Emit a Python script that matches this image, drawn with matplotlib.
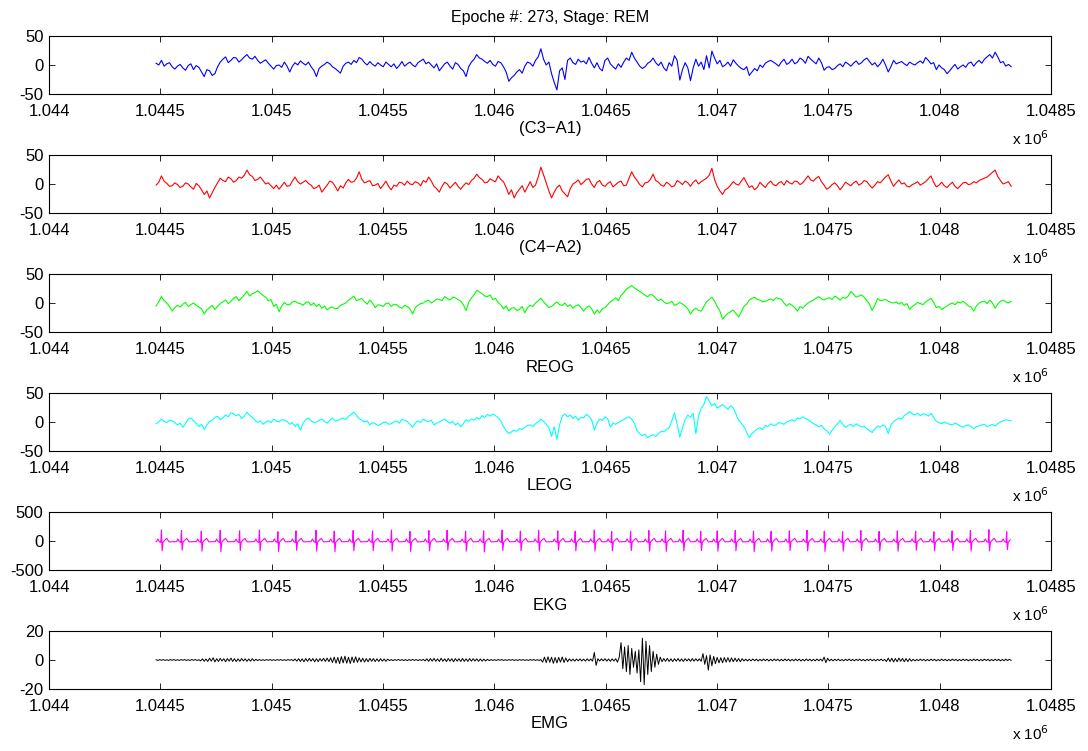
import numpy as np
import matplotlib
matplotlib.use("Agg")
import matplotlib.pyplot as plt

plt.rcParams['font.family'] = ['Liberation Sans', 'DejaVu Sans']

title_text = "Epoche #: 273, Stage: REM"
channel_names = ["(C3\u2212A1)", "(C4\u2212A2)", "REOG", "LEOG", "EKG", "EMG"]
channel_colors = ["#0000ff", "#ff0000", "#00ff00", "#00ffff", "#ff00ff", "#000000"]
channel_ylims = [(-50, 50), (-50, 50), (-50, 50), (-50, 50), (-500, 500), (-20, 20)]
channel_yticks = [[-50, 0, 50], [-50, 0, 50], [-50, 0, 50], [-50, 0, 50],
                  [-500, 0, 500], [-20, 0, 20]]

epoch_start = 1044481          # first sample of epoch 273
eeg_step = 12                  # samples between stored EEG/EOG values
emg_step = 8                   # samples between stored EMG values
xticks = [1.044e6, 1.0445e6, 1.045e6, 1.0455e6, 1.046e6, 1.0465e6,
          1.047e6, 1.0475e6, 1.048e6, 1.0485e6]
xtick_labels = ["1.044", "1.0445", "1.045", "1.0455", "1.046", "1.0465",
                "1.047", "1.0475", "1.048", "1.0485"]

c3_a1 = [
    3, 0, 8, -2, 2, 4, -3, -7, -2, 1, -5, -9, -1, 2, -8, -1, -4, -12, -20, -8,
    -10, -18, -15, -3, 5, 10, 14, 4, 8, 13, 12, 5, 9, 14, 18, 12, 10, 15, 8, 3,
    6, 9, 3, -2, -7, -1, 0, -4, 5, -2, -12, -2, 4, 0, 7, 3, 0, 5, -3, -9,
    -20, -6, -2, 1, 5, 2, -3, -6, -10, -14, -2, 3, 5, 1, 8, 4, 13, 10, 4, 0,
    6, 1, -2, 4, 0, -3, 5, 1, -3, 2, -6, -1, 6, -2, 2, 5, 0, -3, 4, 7,
    10, 2, 5, 0, -5, 2, -10, -4, 2, 5, -2, -7, 4, 1, -6, -10, -20, -3, 5, 10,
    18, 12, 10, 6, 3, 8, 1, -2, 6, 4, -3, -12, -28, -22, -18, -12, -8, -14, -2, 5,
    3, -2, 8, 14, 28, 10, 0, 5, -15, -30, -43, -10, -5, -25, 8, 12, 4, 1, 10, 5,
    7, 2, 13, 3, -5, 4, -6, -10, 8, 12, 2, -3, -7, 2, -4, 5, 12, 8, 22, 12,
    5, -2, -6, -3, 3, 6, 12, 4, -1, 5, -5, -10, 4, -2, 16, 8, -26, -8, 4, -5,
    -27, -5, 10, -2, 5, -8, 16, -5, 24, 12, 2, 8, -3, 0, 5, -2, 9, 3, -2, -6,
    -8, -3, -18, -12, -6, -10, 0, -4, 3, 6, 8, 5, 2, -2, 5, 10, 1, 4, 10, 2,
    5, 12, 9, 3, 15, 10, 6, 2, 12, 4, -9, -4, -3, -8, -6, -1, 2, -3, 5, 2,
    -2, 3, 7, 1, 4, 9, 12, 6, 0, 4, -3, 2, 10, 0, -12, -3, 8, 2, 4, 6,
    2, -1, 5, 2, 0, 4, 7, 3, 13, 8, 2, 4, -8, 0, -5, -8, -15, -10, -4, 1,
    -7, -3, 0, -4, 3, 5, -2, 4, 8, 3, 10, 14, 18, 12, 22, 14, 4, 6, -2, 1,
    -3]

c4_a2 = [
    -2, 3, 14, 5, 1, -4, -3, 2, -1, -6, -4, 2, 0, -5, -9, 1, -3, -10, -18, -12,
    -24, -15, -6, 2, 10, 6, 4, 12, 9, 3, 6, 12, 10, 15, 24, 16, 13, 6, 8, 12,
    6, 0, 2, -3, -8, -2, -9, -3, 3, -4, -3, 5, 12, 4, 0, 3, 6, 1, -2, -8,
    -6, -2, -14, -8, -2, 5, 3, -4, -12, -3, -7, 2, 8, 3, 4, 10, 21, 8, 2, 4,
    6, -3, -2, 1, -8, -2, 5, -4, -10, -2, -4, 3, 2, -2, 5, 0, -1, 4, 2, -3,
    6, 3, 12, 5, -4, -8, -14, -4, 3, 0, -7, -2, 3, -4, -9, -3, 2, -1, 6, 10,
    17, 11, 8, 2, 3, 9, 6, 4, 14, 8, 4, -6, -18, -10, -24, -15, -9, -3, -14, -5,
    4, -6, -2, 12, 29, 16, 2, -12, -24, -14, -6, -2, -12, -17, -22, -8, 0, 3, 7, -1,
    3, 8, 9, 0, -6, 3, 6, -2, -4, 1, 4, -5, -1, 3, 5, -3, -2, 10, 21, 12,
    6, -1, -5, 2, 3, 8, 17, 6, 3, -2, -4, 3, 0, -5, -3, 6, 3, -1, 5, 2,
    -4, 3, 7, 0, 4, 7, 10, 15, 27, 8, -4, -12, -18, -10, -7, -2, 4, 0, -2, 5,
    11, 2, -6, -3, -10, -6, 3, -2, -6, 1, 5, -1, -3, 2, 4, -2, 6, 2, 0, 5,
    4, -1, 2, 8, 14, 7, 5, 10, 13, 4, -2, -9, -6, -1, 2, -3, -10, -4, 3, 0,
    -3, 2, 5, -2, 1, 6, 4, -2, -7, -2, 4, 2, 7, 12, 16, 5, -4, 2, 7, 0,
    2, -4, -5, -1, 1, 4, -2, 1, 4, 9, 14, 3, -5, -2, 3, -3, -6, -1, 3, -4,
    -8, -3, 2, 3, -1, 0, 4, 2, 6, 8, 10, 12, 16, 20, 24, 13, 6, 0, 2, 4,
    -4]

reog = [
    -5, 2, 11, 4, 0, -6, -14, -8, -4, -7, -2, 1, -6, -3, 0, -4, -7, -10, -19, -12,
    -8, -4, -11, -6, -1, 2, 5, -1, 3, 8, 11, 4, 9, 14, 20, 12, 16, 18, 21, 17,
    13, 10, 4, 6, -6, -2, -15, -5, 1, -3, -3, 2, 3, 0, -1, -4, 1, 2, -4, 0,
    -6, -2, -9, -5, -12, -8, -7, -10, -9, -4, -2, 0, 5, 8, 12, 4, 6, 8, 2, -2,
    5, 0, -8, -3, -4, -6, -1, 0, -6, -2, -3, -7, -9, -4, -6, -10, -19, -8, -4, -1,
    0, 3, 5, 0, 3, 7, 6, 4, 11, 8, 5, 10, 9, 6, 3, -3, -13, 1, 9, 14,
    22, 19, 16, 12, 11, 14, 6, 8, 1, -3, -10, -5, -14, -9, -8, -13, -11, -6, -17, -8,
    -4, -6, 0, 4, 8, 2, -3, -8, -6, -2, 2, -3, -4, 0, -6, -3, -9, -5, -3, -8,
    -14, -8, -5, -10, -19, -12, -17, -10, -8, -3, 2, 5, 9, 4, 13, 18, 24, 27, 30, 26,
    23, 20, 17, 13, 11, 15, 13, 8, 4, 7, 2, -1, 0, 3, -4, -2, 1, -2, -5, -10,
    -19, -12, -9, -13, -14, -6, 2, 6, 10, 3, -6, -14, -28, -22, -18, -15, -12, -18, -24, -15,
    -6, -2, 5, 8, 10, 6, 5, 2, 3, 5, 7, 4, 9, 8, 6, 0, -5, -1, -4, -8,
    -14, -6, -9, -4, 0, 3, 5, 8, 11, 7, 5, 8, 9, 6, 12, 9, 5, 10, 8, 12,
    20, 15, 10, 12, 14, 10, 4, -2, -13, -4, 8, 4, 5, 6, 3, 1, 0, 2, -2, 1,
    -4, -1, -11, -6, -3, 1, -1, -3, 2, 5, 8, 1, -8, -6, -11, -8, -5, -2, 0, -3,
    2, 0, 3, -1, -5, -7, -14, -5, 0, 2, 3, -1, 5, 0, -9, -2, 3, 5, 2, 0,
    3]

leog = [
    -3, 0, 5, 1, -1, 3, 2, -1, -5, -2, -9, -3, 5, 7, 2, -2, -8, -4, -13, -5,
    1, 3, 8, 10, 4, 7, 12, 9, 16, 14, 11, 13, 6, 10, 17, 12, 8, 3, -1, 2,
    -4, 0, 2, -1, 5, 2, 0, 4, 3, 1, -4, -1, -8, -3, -14, -2, 4, 7, 2, -1,
    0, 3, 5, 1, -2, 3, 7, 2, 3, 5, 7, 4, 10, 13, 17, 11, 6, 3, 0, 2,
    -5, -1, -3, -6, -4, -1, 0, -4, -3, 0, 2, -2, 5, 3, 1, -4, -9, -2, 2, -1,
    5, 2, 1, 3, -5, -2, 0, 3, 5, 1, -2, 1, -5, -2, -8, -3, 4, 1, 5, 3,
    8, 5, 11, 8, 13, 10, 14, 11, 7, 2, -8, -15, -20, -17, -14, -16, -11, -13, -9, -6,
    -5, -8, -3, 0, 5, 1, -4, -10, -25, -8, -30, -5, 10, 14, 9, 12, 6, 10, 3, 8,
    7, 13, 10, 4, -14, -2, 5, 3, 9, 6, -9, -2, -4, -1, 2, 4, 7, 9, 5, -2,
    -15, -20, -24, -21, -27, -24, -22, -25, -20, -16, -17, -13, -10, 2, 16, -4, -26, -10, 4, 12,
    8, 15, -20, 10, 24, 30, 44, 36, 28, 32, 24, 27, 30, 26, 22, 28, 24, 14, 3, -2,
    -8, -18, -27, -20, -16, -12, -10, -13, -6, -8, -3, -6, -5, -1, -2, -4, 0, 2, 4, 1,
    7, 5, 9, 6, 4, 1, -3, -5, -8, -6, -12, -15, -21, -14, -8, -3, 3, -4, -9, -6,
    -4, -8, -3, -6, -9, -7, -12, -15, -18, -12, -7, -9, -5, -8, -20, -5, 1, 4, 7, 5,
    11, 14, 18, 14, 12, 15, 11, 14, 13, 10, 15, 8, 1, -1, -3, 0, -2, -4, -5, -2,
    -4, -7, -9, -6, -5, -8, -12, -8, -7, -5, -4, -8, -6, -4, -7, -3, 0, 2, 4, 3,
    2]

emg = [
    0.2, -0.3, 0.3, -0.2, 0.3, -0.3, 0.2, -0.3, 0.3, -0.2, 0.3, -0.3, 0.2, -0.3, 0.3, -0.2, 0.3, -0.3, 0.2, -0.3,
    0.3, -0.2, 0.3, -0.3, 0.2, -0.6, 0.8, -0.9, 0.7, -1.0, 1.2, -0.8, 1.5, -1.3, 0.9, -1.0, 1.1, -0.7, 0.9, -1.2,
    1.0, -0.8, 1.3, -1.0, 0.9, -1.1, 0.8, -0.9, 1.0, -0.7, 0.8, -0.9, 0.7, -0.8, 0.9, -0.6, 0.5, -0.4, 0.3, -0.3,
    0.2, -0.3, 0.3, -0.2, 0.3, -0.3, 0.2, -0.3, 0.3, -0.2, 0.3, -0.3, 0.2, -0.3, 0.3, -0.2, 0.3, -0.5, 0.7, -0.8,
    0.9, -1.0, 0.8, -1.2, 1.0, -0.9, 1.1, -0.8, 1.0, -1.2, 0.9, -1.1, 1.0, -0.8, 1.2, -1.0, 1.3, -1.1, 1.5, -1.8,
    2.0, -2.2, 1.8, -2.5, 2.3, -2.0, 2.6, -2.2, 1.9, -2.4, 2.1, -1.8, 2.2, -1.6, 1.5, -1.3, 1.2, -1.4, 1.0, -1.2,
    1.1, -0.9, 1.0, -1.1, 0.8, -1.0, 0.9, -0.8, 0.7, -0.9, 0.6, -0.4, 0.3, -0.4, 0.3, -0.3, 0.4, -0.3, 0.3, -0.4,
    0.3, -0.4, 0.3, -0.3, 0.4, -0.3, 0.3, -0.4, 0.3, -0.3, 0.4, -0.6, 0.8, -0.9, 1.0, -0.8, 1.1, -0.9, 0.8, -1.0,
    1.2, -0.9, 0.8, -1.1, 1.0, -0.8, 0.9, -1.2, 1.0, -0.8, 0.9, -1.0, 1.1, -0.9, 0.8, -1.0, 1.0, -0.8, 0.9, -0.7,
    0.8, -0.9, 0.7, -0.8, 0.6, -0.7, 0.5, -0.4, 0.3, -0.3, 0.2, -0.3, 0.3, -0.2, 0.3, -0.3, 0.2, -0.3, 0.3, -0.2,
    0.3, -0.3, 0.2, -0.3, 0.3, -0.2, 0.3, -0.3, 0.2, -0.3, 0.3, -0.2, 0.3, -0.3, 0.2, -0.3, 0.3, -1.5, 2.0, -1.8,
    2.2, -1.6, 1.9, -2.3, 1.7, -2.0, 1.8, -1.5, 2.1, -1.7, 1.4, -1.2, 0.8, -0.7, 0.6, -0.8, 0.7, -0.6, 0.8, -0.7,
    0.6, -0.7, 0.8, -0.6, 0.7, -0.8, 5.2, -3.7, 0.9, -0.7, 0.8, -0.6, 0.9, -0.8, 0.7, -0.9, 0.8, -0.7, 0.9, -1.5,
    2.0, 12.0, -6.0, 9.0, -8.0, 10.0, -10.0, 8.0, -5.0, 6.0, -9.0, 7.0, -15.0, 15.0, -17.0, 13.0, -10.0, 10.0, -8.0, 6.0,
    -5.0, 4.0, -3.0, 2.0, -1.2, 1.0, -0.9, 1.1, -1.0, 0.8, -1.1, 0.9, -0.8, 1.0, -0.9, 0.8, -1.0, 0.9, -0.7, 0.8,
    -0.9, 1.0, -0.8, 0.9, -0.7, 0.8, -0.9, 4.4, -3.0, 3.0, -7.0, 3.5, -4.0, 2.5, -2.5, 1.8, -2.0, 1.6, -1.9, 1.7,
    -1.5, 1.6, -1.4, 1.5, -1.2, 1.3, -1.1, 1.0, -1.2, 0.9, -0.7, 0.6, -0.7, 0.5, -0.6, 0.7, -0.5, 0.6, -0.7, 0.5,
    -0.6, 0.7, -0.5, 0.6, -0.7, 0.5, -0.6, 0.7, -0.5, 0.6, -0.7, 0.5, -0.6, 0.7, -0.5, 0.6, -0.7, 0.5, -0.6, 0.7,
    -0.5, 0.6, -0.7, 0.5, -0.6, 0.7, -0.5, 0.6, -0.7, 0.5, -0.6, 0.7, -0.5, 0.6, -0.7, 2.0, -1.8, 1.2, -0.6, 0.5,
    -0.6, 0.5, -0.4, 0.6, -0.5, 0.4, -0.6, 0.5, -0.4, 0.6, -0.5, 0.4, -0.6, 0.5, -0.4, 0.6, -0.5, 0.4, -0.6, 0.5,
    -0.4, 0.6, -0.5, 0.4, -0.6, 0.5, -0.4, 0.6, -0.5, 0.4, -1.0, 1.3, -1.1, 1.2, -1.3, 1.0, -1.2, 1.3, -0.9, 1.1,
    -1.2, 1.0, -1.1, 0.9, -0.8, 0.5, -0.6, 0.4, -0.5, 0.6, -0.4, 0.5, -0.6, 0.4, -0.5, 0.6, -0.4, 0.5, -0.6, 0.4,
    -0.5, 0.6, -0.4, 0.5, -0.6, 0.4, -0.5, 0.6, -0.4, 0.5, -0.6, 0.4, -0.5, 0.6, -0.4, 0.5, -0.6, 0.4, -0.5, 0.6,
    -0.4, 0.5, -0.6, 0.4, -0.5, 0.6, -0.4, 0.5, -0.6, 0.4, -0.5, 0.6, -0.4, 0.5, -0.6, 0.4, -0.5, 0.6, -0.4, 0.5,
    -0.3]

# EKG: R-peak sample offsets within the epoch and R / S deflections
ekg_r_idx = [24, 114, 203, 288, 375, 464, 547, 628, 718, 800, 885, 972, 1057, 1140,
             1225, 1307, 1390, 1471, 1554, 1636, 1718, 1804, 1882, 1968, 2046, 2131,
             2213, 2288, 2367, 2446, 2520, 2601, 2683, 2762, 2844, 2923, 3001, 3083,
             3165, 3247, 3329, 3411, 3493, 3575, 3657, 3740, 3820]
ekg_r_val = [190, 180, 170, 185, 175, 190, 160, 175, 185, 170, 180, 175, 190, 165,
             180, 185, 170, 175, 190, 170, 185, 175, 170, 190, 165, 170, 180, 175,
             185, 165, 175, 180, 170, 165, 175, 185, 170, 160, 180, 165, 175, 170,
             160, 175, 180, 195, 160]
ekg_s_val = [-170, -160, -175, -185, -165, -170, -180, -160, -175, -185, -170, -165, -175,
             -180, -170, -160, -175, -190, -165, -170, -175, -160, -170, -175, -170, -165,
             -175, -180, -170, -165, -175, -170, -185, -175, -165, -170, -180, -175, -165,
             -170, -175, -160, -170, -165, -175, -170, -150]


def ekg_trace(r_idx, r_val, s_val, n_total):
    # beat morphology: P wave, Q dip, R/S spike, T wave
    xs, ys = [0], [-10]
    for r, rv, sv in zip(r_idx, r_val, s_val):
        for off, val in ((-22, -10), (-16, 35), (-10, -10), (-3, -25), (0, rv),
                         (3, sv), (7, -20), (16, 20), (24, 45), (34, -15)):
            p = r + off
            if 0 <= p <= n_total and p > xs[-1]:
                xs.append(p)
                ys.append(val)
    if xs[-1] < n_total - 10:
        xs.append(n_total)
        ys.append(-10)
    return np.array(xs), np.array(ys)


fig = plt.figure(figsize=(10.88, 7.51), dpi=100)
W, H = 1088.0, 751.0
ax_left, ax_width = 49 / W, 1002 / W
ax_height = 58 / H
bottoms_px = [94, 213, 332, 451, 570, 689]

eeg_series = [c3_a1, c4_a2, reog, leog]

for i in range(6):
    ax = fig.add_axes([ax_left, 1 - bottoms_px[i] / H, ax_width, ax_height])
    if i < 4:
        vals = np.asarray(eeg_series[i], dtype=float)
        x = epoch_start + eeg_step * np.arange(len(vals))
        ax.plot(x, vals, color=channel_colors[i], lw=0.8)
    elif i == 4:
        ex, ey = ekg_trace(ekg_r_idx, ekg_r_val, ekg_s_val, 3840)
        ax.plot(epoch_start + ex, ey, color=channel_colors[i], lw=0.8)
    else:
        vals = np.asarray(emg, dtype=float)
        x = epoch_start + emg_step * np.arange(len(vals))
        ax.plot(x, vals, color=channel_colors[i], lw=0.7)

    ax.set_xlim(1.044e6, 1.0485e6)
    ax.set_ylim(*channel_ylims[i])
    ax.set_xticks(xticks)
    ax.set_xticklabels(xtick_labels)
    ax.set_yticks(channel_yticks[i])
    ax.set_yticklabels([str(v) for v in channel_yticks[i]])
    ax.tick_params(direction='in', length=4, width=0.6, top=True, right=True,
                   labelsize=12)
    ax.tick_params(axis='x', pad=7)
    ax.tick_params(axis='y', pad=4)
    for s in ax.spines.values():
        s.set_linewidth(0.8)
    ax.set_xlabel(channel_names[i], fontsize=12, labelpad=2)
    ax.text(0.998, -0.88, "x 10$^{6}$", transform=ax.transAxes, ha='right',
            va='baseline', fontsize=11)
    if i == 0:
        ax.set_title(title_text, fontsize=11.5, pad=10)

fig.savefig("out.png", dpi=100)
